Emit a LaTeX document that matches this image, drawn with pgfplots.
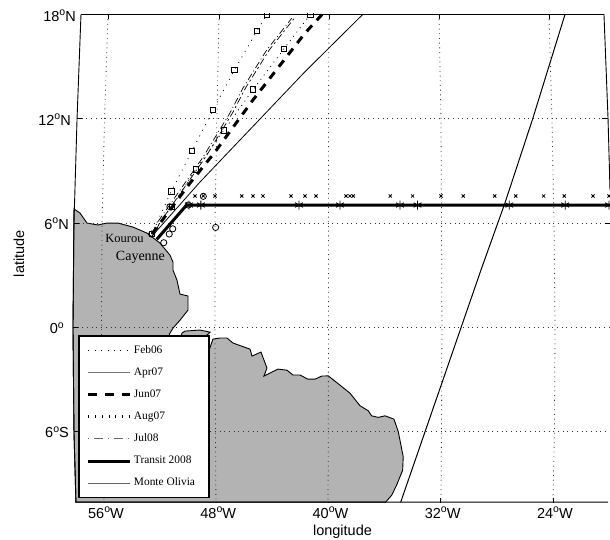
\documentclass[border=0pt]{standalone}
\usepackage{fontspec}
\setmainfont{Liberation Sans}
\newfontfamily\timesf{Liberation Serif}
\usepackage{pgfplots}
\pgfplotsset{compat=1.18}
\definecolor{landgray}{RGB}{179,179,179}
\newcommand{\dg}{\raisebox{5.5pt}{\fontsize{10.5}{11}\selectfont o}}
\pgfplotsset{
  griddot/.style={black!80,line width=0.8pt,dash pattern=on 0.9pt off 3.8pt,forget plot},
  stub/.style={black,line width=0.7pt,forget plot},
  legend image code/.code={\draw[#1] (0pt,0pt) -- (42pt,0pt);}
}
\begin{document}
\begin{tikzpicture}
\useasboundingbox (0,0) rectangle (610pt,540pt);
\begin{axis}[
  at={(72pt,37pt)},anchor=south west,
  scale only axis,width=538pt,height=489.5pt,
  xmin=-58.28,xmax=-19.93,ymin=-10.13,ymax=18.06,
  axis x line*=bottom,axis y line*=left,
  axis line style={draw=none},
  clip marker paths=true,
  font=\fontsize{14.5}{16}\selectfont,
  xtick={-56,-48,-40,-32,-24},
  xticklabels={56\dg W,48\dg W,40\dg W,32\dg W,24\dg W},
  xtick style={black,line width=0.7pt},
  xtick align=inside,major tick length=5pt,
  x tick label style={xshift=2pt,yshift=-3pt,inner sep=1pt},
  ytick={-6,0,6,12,18},
  yticklabels={6\dg S\kern3pt,0\dg\kern8pt,6\dg N\kern3pt,12\dg N\kern1pt,18\dg N\kern-4pt},
  ytick style={draw=none},
  y tick label style={anchor=east,yshift=-1pt,inner sep=0pt,xshift=0pt},
  xlabel={longitude},ylabel={latitude},
  every axis x label/.style={at={(axis description cs:0.5028,-0.0592)},anchor=center},
  every axis y label/.style={at={(axis description cs:-0.0985,0.509)},anchor=center,rotate=90},
  legend style={
    at={(axis description cs:0.0115,0.3426)},anchor=north west,
    draw=black,line width=1.5pt,fill=white,
    inner xsep=8pt,inner ysep=7pt,
    font=\timesf\fontsize{11.4}{12}\selectfont,
    row sep=7.1pt,
    nodes={text height=8pt,text depth=3pt,inner sep=2pt},
  },
  legend cell align=left,
]
% land
\addplot[fill=landgray,draw=black,line width=0.9pt,forget plot] coordinates {
(-58.14,6.80)(-57.71,6.57)(-57.21,5.99)(-56.43,5.88)(-55.79,5.99)(-55.00,5.99)(-53.93,5.76)(-52.93,5.41)(-52.01,4.84)(-51.30,4.15)(-51.08,3.74)(-51.08,3.28)(-50.80,2.71)(-50.58,1.90)(-50.01,1.79)(-50.01,0.98)(-50.58,0.40)(-51.08,-0.06)(-51.30,-0.35)(-51.44,-0.63)(-50.58,-0.63)(-50.44,-0.35)(-50.23,-0.23)(-49.16,-0.17)(-48.44,-0.29)(-49.16,-0.86)(-48.48,-1.27)(-48.23,-0.69)(-47.73,-0.63)(-47.23,-0.63)(-46.80,-0.92)(-45.59,-1.27)(-45.45,-1.67)(-44.81,-1.44)(-44.38,-2.36)(-44.60,-2.82)(-43.60,-2.42)(-42.96,-2.48)(-42.53,-2.76)(-42.03,-2.76)(-41.46,-3.00)(-40.96,-3.00)(-40.48,-2.82)(-40.01,-2.81)(-39.18,-3.34)(-38.47,-3.80)(-37.75,-4.53)(-37.16,-4.82)(-36.92,-5.11)(-36.45,-5.20)(-35.97,-5.11)(-35.33,-5.30)(-35.02,-6.03)(-34.67,-7.47)(-34.71,-8.24)(-35.14,-9.10)(-35.49,-9.68)(-35.92,-10.08)(-58.00,-10.08)(-58.14,-6.05)(-58.21,0)
} -- cycle;
% graticule
\addplot[griddot] coordinates {(-55.71,18)(-55.96,12)(-56.14,6)(-56.18,0)(-56.14,-6)(-56,-10.08)};
\addplot[griddot] coordinates {(-47.80,18)(-47.95,12)(-48.09,6)(-48.09,0)(-48.05,-6)(-48.02,-10.08)};
\addplot[griddot] coordinates {(-39.96,18)(-40,12)(-40,6)(-40,0)(-40.01,-6)(-40.03,-10.08)};
\addplot[griddot] coordinates {(-32.12,18)(-31.98,12)(-31.94,6)(-31.91,0)(-31.94,-6)(-31.98,-10.08)};
\addplot[griddot] coordinates {(-24.28,18)(-24.07,12)(-23.92,6)(-23.85,0)(-23.89,-6)(-24,-10.08)};
\addplot[griddot] coordinates {(-57.92,12)(-20.07,12)};
\addplot[griddot] coordinates {(-58.14,6)(-19.93,6)};
\addplot[griddot] coordinates {(-58.21,0)(-19.93,0)};
\addplot[griddot] coordinates {(-58.14,-6)(-19.93,-6)};
% frame
\addplot[black,line width=0.9pt,forget plot] coordinates {(-57.64,18)(-57.92,12)(-58.14,6)(-58.21,0)(-58.14,-6)(-58.00,-10.08)(-20.07,-10.08)};
\addplot[black,line width=0.9pt,forget plot] coordinates {(-57.64,18)(-20.36,18)(-20.07,12)(-19.93,7.89)};
% frame ticks
\addplot[stub] coordinates {(-57.92,12)(-57.57,12)};
\addplot[stub] coordinates {(-58.14,6)(-57.78,6)};
\addplot[stub] coordinates {(-58.21,0)(-57.85,0)};
\addplot[stub] coordinates {(-58.14,-6)(-57.78,-6)};
\addplot[stub] coordinates {(-20.50,12)(-20.07,12)};
\addplot[stub] coordinates {(-20.29,6)(-19.93,6)};
\addplot[stub] coordinates {(-55.71,18)(-55.71,17.72)};
\addplot[stub] coordinates {(-47.80,18)(-47.80,17.72)};
\addplot[stub] coordinates {(-39.96,18)(-39.96,17.72)};
\addplot[stub] coordinates {(-32.12,18)(-32.12,17.72)};
\addplot[stub] coordinates {(-24.28,18)(-24.28,17.72)};
% tracks
\addplot[black,line width=0.8pt,dash pattern=on 0.9pt off 5.5pt] coordinates {(-52.60,5.36)(-51.20,7.82)(-49.73,10.14)(-48.21,12.52)(-46.71,14.79)(-45.09,17.07)(-44.38,18)};
\addlegendentry{Feb06}
\addplot[black,line width=0.8pt,legend image post style={black!55,line width=1.1pt}] coordinates {(-52.58,5.24)(-49.16,8.35)(-41.67,14.71)(-37.56,18)};
\addlegendentry{Apr07}
\addplot[black,line width=3pt,dash pattern=on 8pt off 7pt,legend image post style={dash pattern=on 9pt off 8pt}] coordinates {(-52.58,5.36)(-49.87,8.29)(-48.09,10.08)(-45.38,13.08)(-41.67,16.93)(-40.46,18)};
\addlegendentry{Jun07}
\addplot[black,line width=0.8pt,dash pattern=on 0.9pt off 4.5pt,legend image post style={line width=3pt,dash pattern=on 0.8pt off 5.9pt}] coordinates {(-52.60,5.36)(-51.17,6.93)(-49.46,9.08)(-47.45,11.33)(-45.36,13.69)(-43.17,16.03)(-41.29,18)};
\addlegendentry{Aug07}
\addplot[black,line width=0.7pt,dash pattern=on 7pt off 3pt on 1pt off 3pt,legend image post style={black!60,line width=1pt,dash pattern=on 1pt off 5pt on 9pt off 5pt}] coordinates {(-52.58,5.36)(-52.22,5.99)(-50.58,7.89)(-48.94,9.79)(-47.02,12.33)(-46.09,13.77)(-44.40,15.96)(-42.62,17.78)};
\addlegendentry{Jul08}
\addplot[black,line width=3pt] coordinates {(-52.24,5.05)(-50.11,7.03)(-19.93,7.03)};
\addlegendentry{Transit 2008}
\addplot[black,line width=1pt,legend image post style={black!60,line width=1.1pt}] coordinates {(-23.14,18)(-25.44,12)(-27.42,7.14)(-29.08,3.40)(-34.85,-10.08)};
\addlegendentry{Monte Olivia\rule{4pt}{0pt}}
% second dash-dot track of Jul08
\addplot[black,line width=0.7pt,dash pattern=on 2pt off 3pt on 7pt off 3pt,forget plot] coordinates {(-52.40,5.36)(-52.04,5.99)(-50.40,7.89)(-48.76,9.79)(-46.84,12.33)(-45.91,13.77)(-44.22,15.96)(-42.44,17.78)};
% markers
\addplot[only marks,mark=square,mark size=2.6pt,mark options={black,line width=0.8pt},forget plot] coordinates {(-44.38,18)(-45.09,17.07)(-46.71,14.79)(-48.21,12.52)(-49.73,10.14)(-51.20,7.82)(-52.60,5.36)};
\addplot[only marks,mark=square,mark size=2.6pt,mark options={black,line width=0.8pt},forget plot] coordinates {(-41.29,18)(-43.17,16.03)(-45.36,13.69)(-47.45,11.33)(-49.46,9.08)(-51.17,6.93)};
\addplot[only marks,mark=o,mark size=3.1pt,mark options={black,line width=0.8pt},forget plot] coordinates {(-48.04,5.74)(-48.92,7.53)(-51.10,5.66)(-51.35,5.36)(-51.74,4.86)(-49.99,7.03)(-51.30,6.93)(-52.60,5.36)};
\addplot[only marks,mark=x,mark size=2.2pt,mark options={black,line width=0.8pt},forget plot] coordinates {(-49.51,7.55)(-48.92,7.55)(-48.09,7.55)(-46.18,7.55)(-45.38,7.55)(-44.67,7.55)(-42.67,7.55)(-41.67,7.55)(-40.89,7.55)(-38.75,7.55)(-38.47,7.55)(-38.23,7.55)(-35.59,7.55)(-34.00,7.55)(-31.98,7.55)(-30.39,7.55)(-28.15,7.55)(-26.65,7.55)(-24.66,7.55)(-23.19,7.55)(-21.14,7.55)(-20.00,7.55)};
\addplot[only marks,mark=asterisk,mark size=4.5pt,mark options={black,line width=0.9pt},forget plot] coordinates {(-49.94,7.03)(-49.09,7.03)(-42.10,7.03)(-39.18,7.03)(-34.90,7.03)(-33.65,7.03)(-27.11,7.03)(-23.12,7.03)(-20.00,7.03)};
\node[font=\timesf\fontsize{12.5}{14}\selectfont,inner sep=0pt] at (axis cs:-54.54,5.13) {Kourou};
\node[font=\timesf\fontsize{14}{16}\selectfont,inner sep=0pt] at (axis cs:-53.40,4.03) {Cayenne};
\end{axis}
\end{tikzpicture}
\end{document}
